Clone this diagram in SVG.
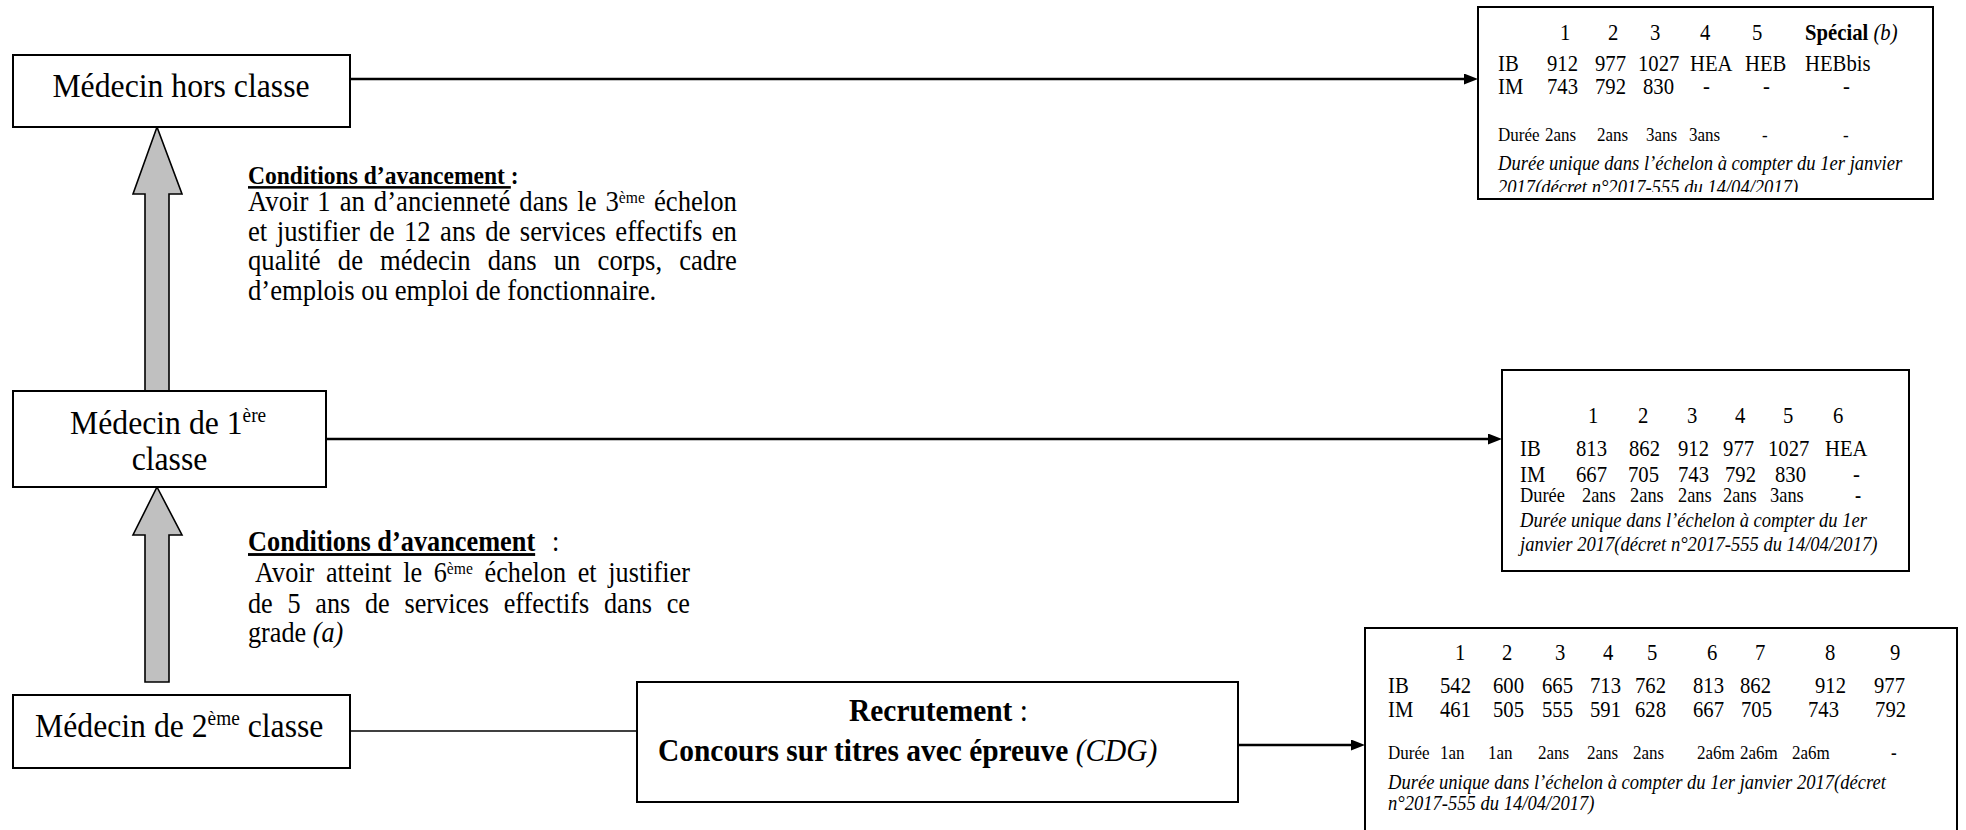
<svg xmlns="http://www.w3.org/2000/svg" width="1966" height="830" viewBox="0 0 1966 830">
<defs>
<style>
.box{fill:#fff;stroke:#000;stroke-width:2}
.t{font-family:"Liberation Serif","Times New Roman",serif;fill:#000}
.lbl{font-size:34.5px}
.par{font-size:29px}
.par2{font-size:28.5px}
.tb{font-size:22.5px}
.du{font-size:20px}
.du2{font-size:18.5px}
.it{font-size:20.2px;font-style:italic}
.b{font-weight:bold}
.i{font-style:italic}
.conn{stroke:#000;fill:none;stroke-width:2.5}
.thin{stroke-width:1.6}
.up{fill:#c0c0c0;stroke:#000;stroke-width:1.6}
</style>
<marker id="ah" markerUnits="userSpaceOnUse" markerWidth="16" markerHeight="12" refX="4" refY="5.5" orient="auto">
<path d="M0,0 L14,5.5 L0,11 z" fill="#000"/>
</marker>
<clipPath id="clip1"><rect x="1479" y="8" width="453" height="184"/></clipPath>
</defs>
<rect width="1966" height="830" fill="#fff"/>

<g id="connectors">
<path class="conn" d="M350,79 H1468" marker-end="url(#ah)"/>
<path class="conn" d="M326,439 H1492" marker-end="url(#ah)"/>
<path class="conn thin" d="M350,731 H637"/>
<path class="conn" d="M1238,745 H1355" marker-end="url(#ah)"/>
<polygon class="up" points="157,127 182,194 169,194 169,391 145,391 145,194 133,194"/>
<polygon class="up" points="157,487 182,535 169,535 169,682 145,682 145,535 133,535"/>
</g>

<g id="n-hors">
<rect class="box" x="13" y="55" width="337" height="72"/>
<text class="t lbl" text-anchor="middle" transform="translate(181,97) scale(.92,1)">Médecin hors classe</text>
</g>

<g id="n-1ere">
<rect class="box" x="13" y="391" width="313" height="96"/>
<text class="t lbl" transform="translate(70,434) scale(.92,1)">Médecin de 1<tspan font-size="21" dy="-12">ère</tspan></text>
<text class="t lbl" text-anchor="middle" transform="translate(169.5,470) scale(.92,1)">classe</text>
</g>

<g id="n-2eme">
<rect class="box" x="13" y="695" width="337" height="73"/>
<text class="t lbl" transform="translate(35,737) scale(.92,1)">Médecin de 2<tspan font-size="21" dy="-12">ème</tspan><tspan dy="12"> classe</tspan></text>
</g>

<g id="n-recrut">
<rect class="box" x="637" y="682" width="601" height="120"/>
<text class="t" font-size="32" transform="translate(849,721) scale(.92,1)"><tspan class="b">Recrutement</tspan> :</text>
<text class="t" font-size="32" transform="translate(658,761) scale(.92,1)"><tspan class="b">Concours sur titres avec épreuve </tspan><tspan class="i">(CDG)</tspan></text>
</g>

<g id="cond1">
<text class="t b" font-size="25.6" transform="translate(248,184) scale(.92,1)"><tspan text-decoration="underline">Conditions d’avancement </tspan>:</text>
<text class="t par" transform="translate(248,211) scale(.92,1)" word-spacing="2.5" textLength="531.5" lengthAdjust="spacing">Avoir 1 an d’ancienneté dans le 3<tspan font-size="17" dy="-8">ème</tspan><tspan dy="8"> échelon</tspan></text>
<text class="t par" transform="translate(248,241) scale(.92,1)" word-spacing="3" textLength="531.5" lengthAdjust="spacing">et justifier de 12 ans de services effectifs en</text>
<text class="t par" transform="translate(248,270) scale(.92,1)" word-spacing="11.3" textLength="531.5" lengthAdjust="spacing">qualité de médecin dans un corps, cadre</text>
<text class="t par" transform="translate(248,300) scale(.92,1)">d’emplois ou emploi de fonctionnaire.</text>
</g>

<g id="cond2">
<text class="t" font-size="28.6" transform="translate(248,551) scale(.92,1)"><tspan class="b" text-decoration="underline">Conditions d’avancement</tspan><tspan x="330.4">:</tspan></text>
<text class="t par2" transform="translate(255,582) scale(.92,1)" word-spacing="5.4" textLength="472.8" lengthAdjust="spacing">Avoir atteint le 6<tspan font-size="17" dy="-8">ème</tspan><tspan dy="8"> échelon et justifier</tspan></text>
<text class="t par2" transform="translate(248,613) scale(.92,1)" word-spacing="8.84" textLength="480.4" lengthAdjust="spacing">de 5 ans de services effectifs dans ce</text>
<text class="t par2" transform="translate(248,642) scale(.92,1)">grade <tspan class="i">(a)</tspan></text>
</g>

<g id="n-tab1">
<rect class="box" x="1478" y="7" width="455" height="192"/>
<text class="t tb" transform="translate(1498,40) scale(.92,1)"><tspan x="67.4">1</tspan><tspan x="119.6">2</tspan><tspan x="165.2">3</tspan><tspan x="219.6">4</tspan><tspan x="276.1">5</tspan><tspan x="333.7" class="b">Spécial</tspan><tspan class="i"> (b)</tspan></text>
<text class="t tb" transform="translate(1498,71) scale(.92,1)"><tspan x="0">IB</tspan><tspan x="53.3">912</tspan><tspan x="105.4">977</tspan><tspan x="152.2">1027</tspan><tspan x="208.7">HEA</tspan><tspan x="268.5">HEB</tspan><tspan x="333.7">HEBbis</tspan></text>
<text class="t tb" transform="translate(1498,94) scale(.92,1)"><tspan x="0">IM</tspan><tspan x="53.3">743</tspan><tspan x="105.4">792</tspan><tspan x="157.6">830</tspan><tspan x="222.8">-</tspan><tspan x="288.1">-</tspan><tspan x="375">-</tspan></text>
<text class="t du2" transform="translate(1498,141) scale(.92,1)"><tspan x="0">Durée</tspan><tspan x="51.1">2ans</tspan><tspan x="107.6">2ans</tspan><tspan x="160.9">3ans</tspan><tspan x="207.6">3ans</tspan><tspan x="287">-</tspan><tspan x="375">-</tspan></text>
<text class="t it" transform="translate(1498,170) scale(.92,1)">Durée unique dans l’échelon à compter du 1er janvier</text>
<g clip-path="url(#clip1)">
<text class="t it" transform="translate(1498,194) scale(.92,1)">2017(décret n°2017-555 du 14/04/2017)</text>
</g>
</g>

<g id="n-tab2">
<rect class="box" x="1502" y="370" width="407" height="201"/>
<text class="t tb" transform="translate(1520,423) scale(.92,1)"><tspan x="73.9">1</tspan><tspan x="128.3">2</tspan><tspan x="181.5">3</tspan><tspan x="233.7">4</tspan><tspan x="285.9">5</tspan><tspan x="340.2">6</tspan></text>
<text class="t tb" transform="translate(1520,456) scale(.92,1)"><tspan x="0">IB</tspan><tspan x="60.9">813</tspan><tspan x="118.5">862</tspan><tspan x="171.7">912</tspan><tspan x="220.7">977</tspan><tspan x="269.6">1027</tspan><tspan x="331.5">HEA</tspan></text>
<text class="t tb" transform="translate(1520,482) scale(.92,1)"><tspan x="0">IM</tspan><tspan x="60.9">667</tspan><tspan x="117.4">705</tspan><tspan x="171.7">743</tspan><tspan x="222.8">792</tspan><tspan x="277.2">830</tspan><tspan x="362">-</tspan></text>
<text class="t du" transform="translate(1520,502) scale(.92,1)"><tspan x="0">Durée</tspan><tspan x="67.4">2ans</tspan><tspan x="119.6">2ans</tspan><tspan x="171.7">2ans</tspan><tspan x="220.7">2ans</tspan><tspan x="271.8">3ans</tspan><tspan x="364.1" class="b">-</tspan></text>
<text class="t it" transform="translate(1520,527) scale(.92,1)">Durée unique dans l’échelon à compter du 1er</text>
<text class="t it" transform="translate(1520,551) scale(.92,1)">janvier 2017(décret n°2017-555 du 14/04/2017)</text>
</g>

<g id="n-tab3">
<rect class="box" x="1365" y="628" width="592" height="206"/>
<text class="t tb" transform="translate(1388,660) scale(.92,1)"><tspan x="72.8">1</tspan><tspan x="123.9">2</tspan><tspan x="181.5">3</tspan><tspan x="233.7">4</tspan><tspan x="281.5">5</tspan><tspan x="346.8">6</tspan><tspan x="398.9">7</tspan><tspan x="475">8</tspan><tspan x="545.7">9</tspan></text>
<text class="t tb" transform="translate(1388,693) scale(.92,1)"><tspan x="0">IB</tspan><tspan x="56.5">542</tspan><tspan x="114.1">600</tspan><tspan x="167.4">665</tspan><tspan x="219.6">713</tspan><tspan x="268.5">762</tspan><tspan x="331.5">813</tspan><tspan x="382.6">862</tspan><tspan x="464.1">912</tspan><tspan x="528.3">977</tspan></text>
<text class="t tb" transform="translate(1388,717) scale(.92,1)"><tspan x="0">IM</tspan><tspan x="56.5">461</tspan><tspan x="114.1">505</tspan><tspan x="167.4">555</tspan><tspan x="219.6">591</tspan><tspan x="268.5">628</tspan><tspan x="331.5">667</tspan><tspan x="383.7">705</tspan><tspan x="456.5">743</tspan><tspan x="529.4">792</tspan></text>
<text class="t du2" transform="translate(1388,759) scale(.92,1)"><tspan x="0">Durée</tspan><tspan x="56.5">1an</tspan><tspan x="108.7">1an</tspan><tspan x="163">2ans</tspan><tspan x="216.3">2ans</tspan><tspan x="266.3">2ans</tspan><tspan x="335.9">2a6m</tspan><tspan x="382.6">2a6m</tspan><tspan x="439.1">2a6m</tspan><tspan x="546.8" class="b">-</tspan></text>
<text class="t it" transform="translate(1388,789) scale(.92,1)">Durée unique dans l’échelon à compter du 1er janvier 2017(décret</text>
<text class="t it" transform="translate(1388,810) scale(.92,1)">n°2017-555 du 14/04/2017)</text>
</g>
</svg>
